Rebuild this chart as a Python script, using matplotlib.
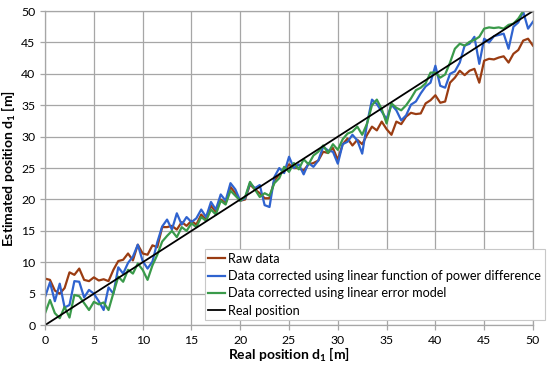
import numpy as np
import matplotlib
matplotlib.use('Agg')
import matplotlib.pyplot as plt

plt.rcParams['font.family'] = ['Lato', 'DejaVu Sans']
plt.rcParams['mathtext.fontset'] = 'custom'
plt.rcParams['mathtext.rm'] = 'Lato'
plt.rcParams['mathtext.bf'] = 'Lato:bold'
plt.rcParams['mathtext.it'] = 'Lato:italic'

# real position d1 [m], 0.5 m steps
real_pos = np.arange(0, 50.5, 0.5)

raw_data = [
    7.4, 7.2, 5.5, 5.0, 5.9, 8.4, 8.0, 9.0, 7.2, 7.0,
    7.6, 7.1, 7.3, 7.0, 8.8, 10.2, 10.4, 11.4, 10.3, 12.8,
    11.4, 11.2, 12.7, 12.4, 15.6, 15.6, 15.8, 15.2, 16.4, 15.8,
    16.6, 16.0, 17.6, 16.8, 19.0, 18.0, 20.0, 19.4, 22.0, 21.0,
    19.8, 20.0, 22.4, 21.6, 21.0, 20.2, 20.2, 23.0, 24.0, 24.6,
    25.6, 25.0, 25.0, 24.6, 25.6, 25.8, 26.2, 27.6, 27.4, 28.2,
    26.3, 28.8, 29.7, 28.6, 29.5, 28.8, 30.3, 31.6, 31.0, 32.4,
    31.2, 30.3, 32.4, 32.0, 33.2, 33.8, 33.6, 33.7, 35.3, 35.8,
    36.6, 35.4, 35.6, 38.6, 39.4, 40.5, 39.8, 40.5, 40.8, 38.6,
    42.1, 42.4, 42.3, 42.6, 42.8, 41.8, 43.2, 43.8, 45.3, 45.6,
    44.5]

corr_power = [
    4.5, 6.8, 3.8, 6.6, 2.8, 3.2, 7.0, 6.9, 4.4, 5.6,
    5.0, 3.8, 2.4, 6.0, 5.0, 9.2, 8.2, 9.9, 10.9, 12.8,
    10.2, 9.0, 10.1, 13.2, 15.7, 16.8, 15.2, 17.8, 16.0, 17.2,
    16.4, 17.0, 18.4, 17.2, 19.6, 18.4, 20.8, 19.8, 22.6, 21.6,
    19.8, 20.2, 22.6, 21.8, 22.3, 19.1, 18.8, 23.6, 25.0, 24.2,
    26.8, 25.0, 25.6, 24.0, 25.8, 25.2, 26.2, 28.4, 27.8, 27.6,
    25.7, 28.8, 29.2, 30.3, 29.4, 27.3, 32.1, 35.9, 35.2, 34.0,
    32.8, 35.1, 34.2, 32.6, 33.4, 35.1, 35.6, 36.9, 38.0, 38.6,
    41.3, 38.1, 37.8, 40.0, 40.4, 41.8, 44.5, 44.8, 45.9, 41.6,
    45.6, 45.0, 46.0, 46.2, 46.4, 44.0, 47.5, 48.2, 49.9, 47.2,
    48.3]

corr_error = [
    1.9, 4.0, 1.9, 1.1, 2.9, 1.2, 4.8, 4.6, 3.5, 2.4,
    3.7, 3.3, 3.6, 2.4, 5.1, 7.7, 6.9, 8.8, 8.2, 9.8,
    8.8, 7.2, 9.5, 11.2, 13.3, 14.2, 15.0, 14.0, 15.6, 15.0,
    16.2, 15.6, 17.2, 16.6, 18.4, 17.6, 19.8, 19.2, 21.4, 20.6,
    19.8, 20.4, 22.8, 21.6, 20.4, 21.0, 20.6, 22.6, 23.4, 25.2,
    24.4, 25.8, 24.8, 26.4, 25.6, 27.0, 27.6, 28.6, 27.4, 28.8,
    27.9, 29.6, 30.5, 30.8, 31.6, 30.3, 32.1, 35.0, 35.9, 34.4,
    32.1, 35.3, 34.6, 34.2, 35.0, 36.1, 37.4, 37.8, 38.5, 40.2,
    40.2, 39.4, 39.9, 41.8, 44.0, 44.8, 44.5, 45.1, 45.4, 45.9,
    47.2, 47.4, 47.3, 47.4, 47.2, 47.8, 48.0, 48.8, 50.0, 50.8,
    50.6]

labels = ['Raw data',
          'Data corrected using linear function of power difference',
          'Data corrected using linear error model',
          'Real position']

fig = plt.figure(figsize=(5.5, 3.69), dpi=100)
ax = fig.add_axes([0.082, 0.119, 0.887, 0.851])

ax.plot(real_pos, raw_data, color='#9a3c12', lw=1.6, label=labels[0])
ax.plot(real_pos, corr_power, color='#2f63cf', lw=1.6, label=labels[1])
ax.plot(real_pos, corr_error, color='#3a9a4a', lw=1.6, label=labels[2])
ax.plot(real_pos, real_pos, color='black', lw=1.3, label=labels[3])

ax.set_xlim(0, 50)
ax.set_ylim(0, 50)
ax.set_xticks(np.arange(0, 51, 5))
ax.set_yticks(np.arange(0, 51, 5))
ax.grid(True, color='#a6a6a6', lw=0.9)
ax.set_axisbelow(True)
for s in ax.spines.values():
    s.set_color('#a6a6a6')
    s.set_linewidth(0.9)
ax.tick_params(colors='#a6a6a6', labelcolor='black', labelsize=8.8, length=3.5, width=0.9)

ax.set_xlabel(r'Real position d$_\mathbf{1}$ [m]', fontsize=10, fontweight='bold', labelpad=0)
ax.set_ylabel(r'Estimated position d$_\mathbf{1}$ [m]', fontsize=10, fontweight='bold', labelpad=2)

leg = ax.legend(loc='lower right', bbox_to_anchor=(1.024, 0.015), fontsize=9.1,
                frameon=True, fancybox=False, handlelength=1.3, handletextpad=0.25,
                borderpad=0.3, labelspacing=0.42, borderaxespad=0)
leg.get_frame().set_edgecolor('#c8c8c8')
leg.get_frame().set_linewidth(0.8)
leg.get_frame().set_alpha(1)

plt.savefig('out.png', dpi=100)
